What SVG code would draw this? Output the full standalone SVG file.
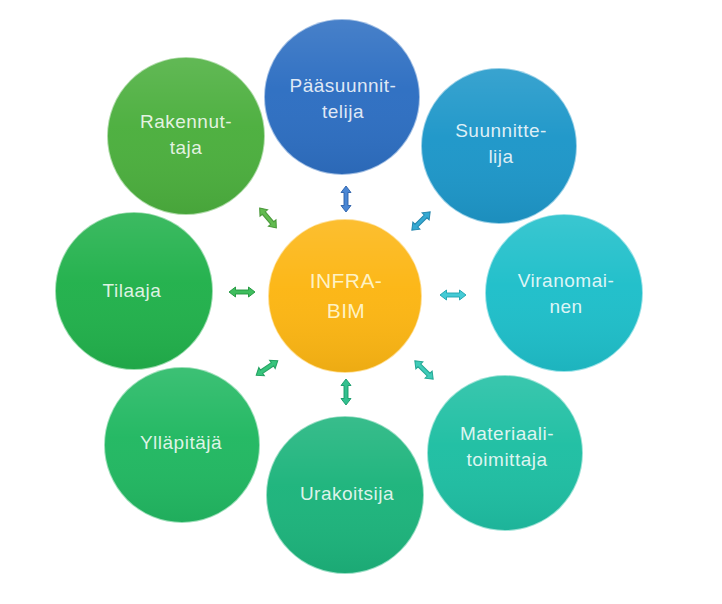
<svg xmlns="http://www.w3.org/2000/svg" xmlns:xlink="http://www.w3.org/1999/xlink" width="722" height="604" viewBox="0 0 722 604">
<defs>
<linearGradient id="shade" x1="0" y1="0" x2="0" y2="1">
<stop offset="0" stop-color="#ffffff" stop-opacity="0.12"/>
<stop offset="0.45" stop-color="#ffffff" stop-opacity="0.02"/>
<stop offset="1" stop-color="#000000" stop-opacity="0.06"/>
</linearGradient>
<path id="arr" d="M-13,0 L-6.5,-5 L-6.5,-2 L6.5,-2 L6.5,-5 L13,0 L6.5,5 L6.5,2 L-6.5,2 L-6.5,5 Z"/>
<style>
.ball{stroke:#ffffff;stroke-opacity:0.55;stroke-width:2}
.gl{fill:url(#shade)}
.t{font-family:"Liberation Sans",Arial,sans-serif;font-size:19px;letter-spacing:0.5px;text-anchor:middle;fill:#ffffff;fill-opacity:0.86}
.tc{font-size:21px;letter-spacing:0.4px;fill:#fff6d0;fill-opacity:0.95}
.a use{stroke-width:1;stroke-opacity:0.9}
</style>
</defs>
<rect width="722" height="604" fill="#ffffff"/>
<g id="connectors" class="a">
<use href="#arr" transform="translate(346,199) rotate(90)" fill="#4a86d4" stroke="#2b5fa8"/>
<use href="#arr" transform="translate(421,221) rotate(-45)" fill="#35a9d2" stroke="#1b7ea6"/>
<use href="#arr" transform="translate(453,295)" fill="#45cbd6" stroke="#1ea3ae"/>
<use href="#arr" transform="translate(424,370) rotate(45)" fill="#3fcbb8" stroke="#17a08c"/>
<use href="#arr" transform="translate(346,392) rotate(90)" fill="#33c08f" stroke="#159968"/>
<use href="#arr" transform="translate(267,368) rotate(-34)" fill="#37c47c" stroke="#189a58"/>
<use href="#arr" transform="translate(242,292)" fill="#3fbd5e" stroke="#1f953c"/>
<use href="#arr" transform="translate(268,218) rotate(50)" fill="#62bb50" stroke="#3f902f"/>
</g>
<g id="paasuunnittelija">
<circle class="ball" cx="342" cy="97" r="78" fill="#2e6fc2"/>
<circle class="gl" cx="342" cy="97" r="77"/>
<text class="t" x="343" y="92">Pääsuunnit-</text>
<text class="t" x="343" y="118">telija</text>
</g>
<g id="suunnittelija">
<circle class="ball" cx="499" cy="146" r="78" fill="#1e97c9"/>
<circle class="gl" cx="499" cy="146" r="77"/>
<text class="t" x="501" y="137">Suunnitte-</text>
<text class="t" x="501" y="163">lija</text>
</g>
<g id="viranomainen">
<circle class="ball" cx="564" cy="293" r="79" fill="#1fbfca"/>
<circle class="gl" cx="564" cy="293" r="78"/>
<text class="t" x="566" y="287">Viranomai-</text>
<text class="t" x="566" y="313">nen</text>
</g>
<g id="materiaalitoimittaja">
<circle class="ball" cx="505" cy="453" r="78" fill="#1fbfa3"/>
<circle class="gl" cx="505" cy="453" r="77"/>
<text class="t" x="507" y="440">Materiaali-</text>
<text class="t" x="507" y="466">toimittaja</text>
</g>
<g id="urakoitsija">
<circle class="ball" cx="345" cy="495" r="79" fill="#1db47c"/>
<circle class="gl" cx="345" cy="495" r="78"/>
<text class="t" x="347" y="500">Urakoitsija</text>
</g>
<g id="yllapitaja">
<circle class="ball" cx="182" cy="445" r="78" fill="#22b862"/>
<circle class="gl" cx="182" cy="445" r="77"/>
<text class="t" x="181" y="449">Ylläpitäjä</text>
</g>
<g id="tilaaja">
<circle class="ball" cx="134" cy="291" r="79" fill="#22b14c"/>
<circle class="gl" cx="134" cy="291" r="78"/>
<text class="t" x="132" y="297">Tilaaja</text>
</g>
<g id="rakennuttaja">
<circle class="ball" cx="186" cy="136" r="79" fill="#4caf3e"/>
<circle class="gl" cx="186" cy="136" r="78"/>
<text class="t" x="186" y="128">Rakennut-</text>
<text class="t" x="186" y="154">taja</text>
</g>
<g id="infrabim">
<circle class="ball" cx="345" cy="296" r="77" fill="#fcb614"/>
<circle class="gl" cx="345" cy="296" r="76"/>
<text class="t tc" x="346" y="288">INFRA-</text>
<text class="t tc" x="346" y="318">BIM</text>
</g>
</svg>
